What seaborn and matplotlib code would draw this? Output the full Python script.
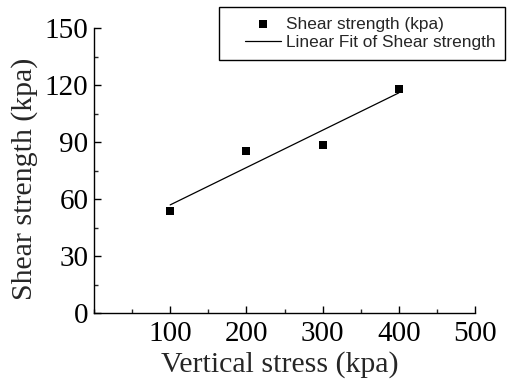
import matplotlib
matplotlib.use("Agg")
import matplotlib.pyplot as plt
import seaborn as sns
import numpy as np
import pandas as pd
from matplotlib.ticker import MultipleLocator, FixedLocator
from matplotlib.legend_handler import HandlerLine2D, HandlerPathCollection
from matplotlib.lines import Line2D
from matplotlib.collections import PathCollection

vertical_stress = [100, 200, 300, 400]
shear_strength = [53.5, 85.5, 88.5, 118.0]
x_ticks = [100, 200, 300, 400, 500]
y_ticks = [0, 30, 60, 90, 120, 150]

sns.set_theme(style="ticks")
plt.rcParams['font.family'] = ['Liberation Serif', 'DejaVu Serif']

df = pd.DataFrame({"x": vertical_stress, "y": shear_strength})
slope, intercept = np.polyfit(df["x"], df["y"], 1)
fit = pd.DataFrame({"x": vertical_stress, "y": [slope * v + intercept for v in vertical_stress]})

fig = plt.figure(figsize=(5.10, 3.81), dpi=100)
ax = fig.add_axes([94 / 510, 1 - 313 / 381, (475 - 94) / 510, (313 - 28) / 381])

sns.scatterplot(data=df, x="x", y="y", ax=ax, marker="s", s=26, color="black",
                edgecolor="black", linewidth=0, label="Shear strength (kpa)", zorder=3)
sns.lineplot(data=fit, x="x", y="y", ax=ax, color="black", linewidth=0.9,
             label="Linear Fit of Shear strength")

ax.set_xlim(0, 500)
ax.set_ylim(0, 150)
ax.xaxis.set_major_locator(FixedLocator(x_ticks))
ax.xaxis.set_minor_locator(MultipleLocator(50))
ax.yaxis.set_major_locator(FixedLocator(y_ticks))
ax.yaxis.set_minor_locator(MultipleLocator(15))
ax.tick_params(which="major", direction="in", length=5, width=1, labelsize=21, colors="black")
ax.tick_params(which="minor", direction="in", length=3, width=1)
ax.tick_params(axis="x", pad=6)
ax.tick_params(axis="y", pad=4)
for sp in ["top", "right"]:
    ax.spines[sp].set_visible(False)
for sp in ["left", "bottom"]:
    ax.spines[sp].set_color("black")
    ax.spines[sp].set_linewidth(1)

ax.set_xlabel("Vertical stress (kpa)", fontsize=21.5, labelpad=3)
ax.set_ylabel("Shear strength (kpa)", fontsize=21.5, labelpad=5)
ax.xaxis.label.set_x(0.487)
ax.yaxis.label.set_y(0.47)

leg = ax.legend(loc="upper left", bbox_to_anchor=(219 / 510, 1 - 7 / 381),
                bbox_transform=fig.transFigure, borderaxespad=0,
                prop={"family": "Liberation Sans", "size": 12.4},
                frameon=True, fancybox=False, edgecolor="black", framealpha=1,
                handlelength=3.05, handletextpad=0.3, borderpad=0.55, labelspacing=0.22,
                handler_map={Line2D: HandlerLine2D(xpad=0.94),
                             PathCollection: HandlerPathCollection(xpad=0.94)})
leg.get_frame().set_linewidth(1)

fig.savefig("out.png", dpi=100)
